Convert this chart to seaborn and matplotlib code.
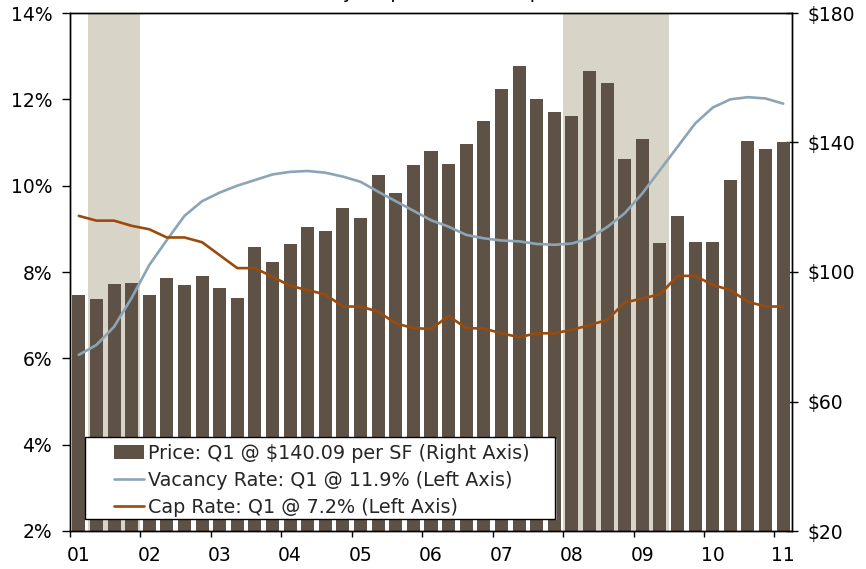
import numpy as np
import pandas as pd
import matplotlib
matplotlib.use("Agg")
import matplotlib.pyplot as plt
import seaborn as sns
from matplotlib.patches import Rectangle, Patch
from matplotlib.lines import Line2D

# Quarterly series, 2001 Q1 through 2011 Q1
quarters = [
    "2001Q1", "2001Q2", "2001Q3", "2001Q4", "2002Q1", "2002Q2", "2002Q3", "2002Q4",
    "2003Q1", "2003Q2", "2003Q3", "2003Q4", "2004Q1", "2004Q2", "2004Q3", "2004Q4",
    "2005Q1", "2005Q2", "2005Q3", "2005Q4", "2006Q1", "2006Q2", "2006Q3", "2006Q4",
    "2007Q1", "2007Q2", "2007Q3", "2007Q4", "2008Q1", "2008Q2", "2008Q3", "2008Q4",
    "2009Q1", "2009Q2", "2009Q3", "2009Q4", "2010Q1", "2010Q2", "2010Q3", "2010Q4",
    "2011Q1",
]

# Price per SF (right axis, $)
price = [
    92.9, 91.7, 96.3, 96.6, 92.9, 98.2, 96.0, 98.8,
    95.2, 92.0, 107.7, 103.1, 108.6, 113.9, 112.7, 119.9,
    116.8, 130.0, 124.4, 133.0, 137.4, 133.4, 139.5, 146.6,
    156.5, 163.6, 153.4, 149.3, 148.2, 162.1, 158.4, 134.9,
    141.1, 109.0, 117.3, 109.3, 109.3, 128.3, 140.5, 138.0,
    140.09,
]

# Vacancy rate (left axis, %)
vacancy = [
    6.08, 6.31, 6.73, 7.40, 8.16, 8.74, 9.30, 9.64,
    9.84, 10.00, 10.13, 10.26, 10.32, 10.34, 10.30, 10.21,
    10.09, 9.86, 9.64, 9.42, 9.20, 9.05, 8.86, 8.78,
    8.73, 8.71, 8.65, 8.63, 8.66, 8.78, 9.04, 9.36,
    9.82, 10.36, 10.90, 11.44, 11.81, 12.00, 12.05, 12.02,
    11.9,
]

# Cap rate (left axis, %)
cap_rate = [
    9.30, 9.19, 9.19, 9.07, 8.99, 8.80, 8.80, 8.69,
    8.39, 8.09, 8.09, 7.89, 7.68, 7.58, 7.48, 7.20,
    7.20, 7.08, 6.81, 6.70, 6.68, 6.98, 6.70, 6.69,
    6.58, 6.49, 6.58, 6.58, 6.66, 6.77, 6.89, 7.29,
    7.39, 7.48, 7.91, 7.91, 7.70, 7.58, 7.31, 7.20,
    7.2,
]

year_labels = ["01", "02", "03", "04", "05", "06", "07", "08", "09", "10", "11"]

# Recession periods (first and last quarter shaded)
recessions = [("2001Q2", "2001Q4"), ("2008Q1", "2009Q2")]

left_ticks = [2, 4, 6, 8, 10, 12, 14]
right_ticks = [20, 60, 100, 140, 180]

BAR = "#5E5247"
BAND = "#D8D4C8"
VAC = "#8BA5B6"
CAP = "#9A4B0C"

df = pd.DataFrame({
    "quarter": quarters,
    "pos": np.arange(len(quarters)),
    "price": price,
    "vacancy": vacancy,
    "cap": cap_rate,
})

sns.set_theme(style="white")
plt.rcParams["font.family"] = ["DejaVu Sans"]
FS = 13.5
LFS = 13.8
LW = 1.9

W, H = 866, 569
fig = plt.figure(figsize=(W / 100, H / 100), dpi=100)
fig.patch.set_facecolor("white")

ax = fig.add_axes([70 / W, 38 / H, 722 / W, 518 / H])
ax.set_facecolor("white")

# Recession bands
for start, end in recessions:
    i0 = quarters.index(start)
    i1 = quarters.index(end)
    ax.axvspan(i0 - 0.5, i1 + 0.5, color=BAND, lw=0, zorder=0)

# Price bars (right-hand scale)
sns.barplot(data=df, x="quarter", y="price", order=quarters, color=BAR,
            saturation=1, width=0.74, ax=ax, zorder=2, linewidth=0)
ax.set_xlim(-0.5, len(quarters) - 0.5)
ax.set_ylim(20, 180)
ax.set_xlabel("")
ax.set_ylabel("")

# Rates (left-hand scale)
axl = ax.twinx()
sns.lineplot(data=df, x="pos", y="vacancy", color=VAC, lw=LW, ax=axl,
             zorder=3, sort=False)
sns.lineplot(data=df, x="pos", y="cap", color=CAP, lw=LW, ax=axl,
             zorder=3, sort=False)
axl.set_ylim(2, 14)
axl.set_xlim(-0.5, len(quarters) - 0.5)
axl.set_ylabel("")
axl.set_xlabel("")

# Dollar scale on the right
ax.yaxis.tick_right()
ax.yaxis.set_label_position("right")
ax.set_yticks(right_ticks)
ax.set_yticklabels([f"${v}" for v in right_ticks], fontsize=FS, color="black")
ax.tick_params(axis="y", direction="inout", length=8.6, width=1, pad=7,
               color="black", left=False, right=True,
               labelleft=False, labelright=True)

# Percent scale on the left
axl.yaxis.tick_left()
axl.yaxis.set_label_position("left")
axl.set_yticks(left_ticks)
axl.set_yticklabels([f"{v}%" for v in left_ticks], fontsize=FS, color="black")
axl.tick_params(axis="y", direction="out", length=5.8, width=1, pad=7,
                color="black", left=True, right=False,
                labelleft=True, labelright=False)

# Year ticks at year boundaries, labels under the first quarter
year_starts = [quarters.index(f"20{y}Q1") for y in year_labels]
ax.set_xticks([p - 0.5 for p in year_starts])
ax.set_xticklabels([])
ax.set_xticks(year_starts, minor=True)
ax.set_xticklabels(year_labels, minor=True, fontsize=FS, color="black")
ax.tick_params(axis="x", which="major", direction="out", length=4.3, width=1,
               bottom=True, color="black")
ax.tick_params(axis="x", which="minor", length=0, pad=11, bottom=True)

for a in (ax, axl):
    for s in a.spines.values():
        s.set_color("black")
        s.set_linewidth(1)
        s.set_visible(True)

# Chart title, sitting just above the top edge
fig.text(0.5, 1 + 1.5 / H, "Vacancy, Cap Rate & Price per SF", ha="center",
         va="baseline", fontsize=FS, color="black")

# Legend box with a faint shadow
x0, y0, x1, y1 = 85, 437, 555, 518.5
fig.add_artist(Rectangle(((x0 + 1.5) / W, (H - y1 - 1.5) / H), (x1 - x0) / W,
                         (y1 - y0) / H, transform=fig.transFigure,
                         facecolor="#9a9a9a", edgecolor="none", zorder=3))
fig.add_artist(Rectangle((x0 / W, (H - y1) / H), (x1 - x0) / W, (y1 - y0) / H,
                         transform=fig.transFigure, facecolor="white",
                         edgecolor="black", lw=1, zorder=4))

handles = [
    Patch(facecolor=BAR, edgecolor="none"),
    Line2D([], [], color=VAC, lw=LW),
    Line2D([], [], color=CAP, lw=LW),
]
labels = [
    f"Price: Q1 @ ${price[-1]:.2f} per SF (Right Axis)",
    f"Vacancy Rate: Q1 @ {vacancy[-1]:.1f}% (Left Axis)",
    f"Cap Rate: Q1 @ {cap_rate[-1]:.1f}% (Left Axis)",
]
fig.legend(handles, labels, loc="lower left",
           bbox_to_anchor=(114 / W, (H - 517) / H), frameon=False,
           borderpad=0, borderaxespad=0, handlelength=1.55, handleheight=0.7,
           handletextpad=0.25, labelspacing=0.42, fontsize=LFS)

fig.savefig("out.png", dpi=100, facecolor="white")
